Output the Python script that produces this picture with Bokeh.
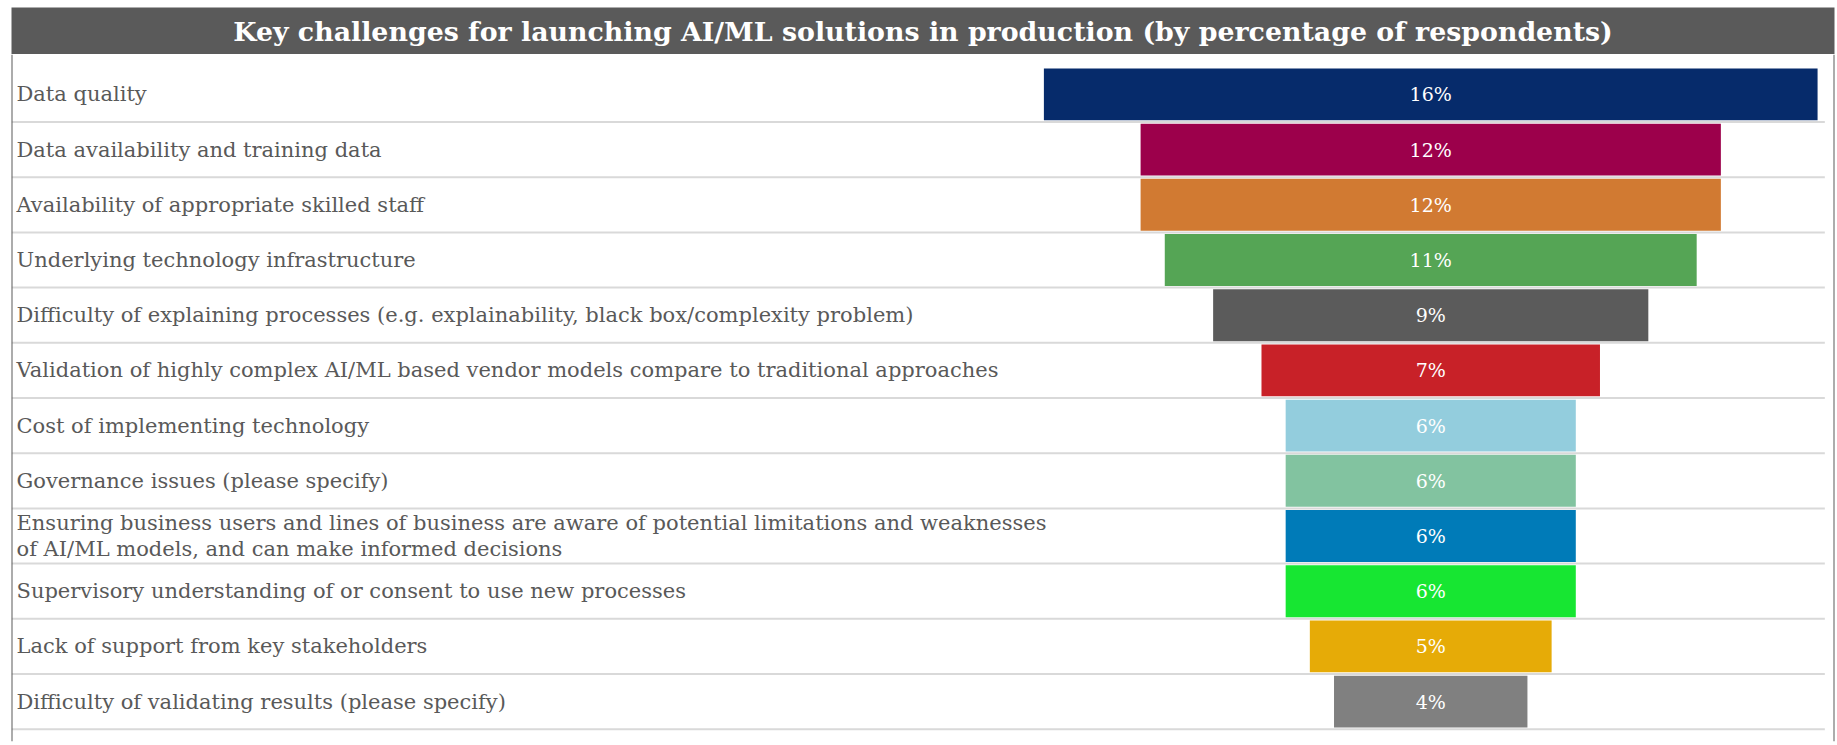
from bokeh.plotting import figure
from bokeh.models import Range1d, FactorRange, ColumnDataSource, Span
from bokeh.transform import dodge
from bokeh.layouts import column
from bokeh.core.properties import value
from bokeh.embed import file_html
from bokeh.resources import INLINE

title_text = "Key challenges for launching AI/ML solutions in production (by percentage of respondents)"

categories = [
    "Data quality",
    "Data availability and training data",
    "Availability of appropriate skilled staff",
    "Underlying technology infrastructure",
    "Difficulty of explaining processes (e.g. explainability, black box/complexity problem)",
    "Validation of highly complex AI/ML based vendor models compare to traditional approaches",
    "Cost of implementing technology",
    "Governance issues (please specify)",
    "Ensuring business users and lines of business are aware of potential limitations and weaknesses\nof AI/ML models, and can make informed decisions",
    "Supervisory understanding of or consent to use new processes",
    "Lack of support from key stakeholders",
    "Difficulty of validating results (please specify)",
]
values = [16, 12, 12, 11, 9, 7, 6, 6, 6, 6, 5, 4]
bar_colors = [
    "#062b6b", "#9c004b", "#d17a32", "#55a555", "#5b5b5b", "#c82128",
    "#93cddd", "#82c3a0", "#007bb8", "#17e632", "#e6ab07", "#808080",
]
value_labels = [f"{v}%" for v in values]

FONT = "DejaVu Serif"
W = 1837
BORDER = "#5a5a5a"

# ---- title bar ----
tf = figure(width=W, height=54, x_range=Range1d(0, 1), y_range=Range1d(0, 1),
            x_axis_location=None, y_axis_location=None,
            toolbar_location=None, output_backend="svg",
            min_border_left=10, min_border_right=2, min_border_top=7, min_border_bottom=0)
tf.background_fill_color = BORDER
tf.border_fill_color = "white"
tf.outline_line_color = None
tf.xgrid.visible = False
tf.ygrid.visible = False
tf.text(x=[0.5], y=[0.5], text=[title_text], text_align="center", text_baseline="middle",
        text_color="white", text_font=value(FONT), text_font_style="bold",
        text_font_size="26.8px")

# ---- chart ----
x_start, x_end = -29.35, 8.35
src = ColumnDataSource(dict(cat=categories, val=values, color=bar_colors, lbl=value_labels))

yr = FactorRange(factors=list(reversed(categories)), range_padding=0.0372,
                 range_padding_units="percent")
p = figure(width=W, height=691, x_range=Range1d(x_start, x_end), y_range=yr,
           x_axis_location=None, y_axis_location=None,
           toolbar_location=None, output_backend="svg",
           min_border_left=11, min_border_right=3, min_border_top=0, min_border_bottom=4)
p.background_fill_color = "white"
p.border_fill_color = "white"
p.outline_line_color = None
p.xgrid.visible = False
p.ygrid.visible = False

# row separators at the bottom of each row
sep_y = dodge("cat", -0.5, range=yr)
p.segment(x0=x_start, x1=x_end - 0.2, y0=sep_y, y1=sep_y, source=src,
          line_color="#d9d9d9", line_width=2)

# funnel bars, centred on 0
p.rect(x=0, y="cat", width="val", height=0.94, source=src,
       fill_color="color", line_color=None)

p.text(x=0, y="cat", text="lbl", source=src, text_align="center", text_baseline="middle",
       text_color="white", text_font=value(FONT), text_font_size="19px")

p.text(x=x_start, y="cat", text="cat", source=src, x_offset=5,
       text_align="left", text_baseline="middle", text_color="#595959",
       text_font=value(FONT), text_font_size="21px", text_line_height=1.07)

for loc in (x_start, x_end):
    p.add_layout(Span(location=loc, dimension="height", line_color=BORDER, line_width=2))

# thin footer so the side borders run to the bottom edge
foot = figure(width=W, height=4, x_range=p.x_range, y_range=Range1d(0, 1),
              x_axis_location=None, y_axis_location=None,
              toolbar_location=None, output_backend="svg",
              min_border_left=11, min_border_right=3, min_border_top=0, min_border_bottom=0)
foot.outline_line_color = None
foot.border_fill_color = "white"
foot.xgrid.visible = False
foot.ygrid.visible = False
for loc in (x_start, x_end):
    foot.add_layout(Span(location=loc, dimension="height", line_color=BORDER, line_width=2))

layout = column(tf, p, foot, spacing=0)
open("out.html", "w").write(file_html(layout, INLINE))
